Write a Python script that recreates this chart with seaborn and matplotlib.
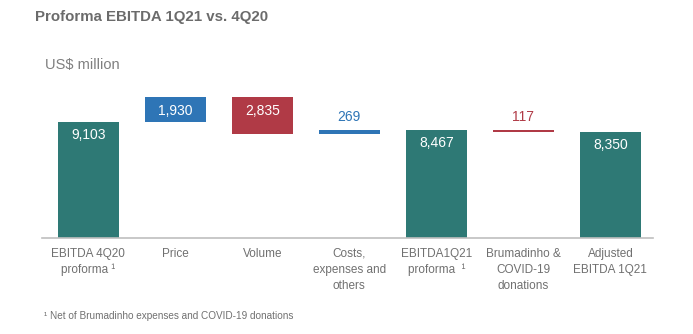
import numpy as np
import pandas as pd
import matplotlib
matplotlib.use("Agg")
import matplotlib.pyplot as plt
import seaborn as sns

categories = ["EBITDA 4Q20\nproforma \u00b9", "Price", "Volume", "Costs,\nexpenses and\nothers",
              "EBITDA1Q21\nproforma  \u00b9", "Brumadinho &\nCOVID-19\ndonations", "Adjusted\nEBITDA 1Q21"]
values = [9103, 1930, -2835, 269, 8467, -117, 8350]
kinds = ["total", "delta", "delta", "delta", "total", "delta", "total"]
value_labels = ["9,103", "1,930", "2,835", "269", "8,467", "117", "8,350"]

TEAL = "#2E7975"
BLUE = "#2E75B6"
RED = "#B03A46"

# waterfall geometry from values
bottoms, heights = [], []
running = 0
for v, k in zip(values, kinds):
    if k == "total":
        bottoms.append(0); heights.append(v); running = v
    else:
        if v >= 0:
            bottoms.append(running); heights.append(v)
        else:
            bottoms.append(running + v); heights.append(-v)
        running += v
colors = [TEAL if k == "total" else (BLUE if v >= 0 else RED) for v, k in zip(values, kinds)]

df = pd.DataFrame({"cat": categories, "h": heights})

sns.set_theme(style="white")
plt.rcParams["font.family"] = ["Liberation Sans", "DejaVu Sans"]

fig = plt.figure(figsize=(6.93, 3.34), dpi=100)
ax = fig.add_axes([42/693, 96/334, 611/693, 152.9/334])

sns.barplot(data=df, x="cat", y="h", order=categories, bottom=np.array(bottoms, dtype=float),
            width=0.70, linewidth=0, ax=ax, errorbar=None, color=TEAL, saturation=1)
for p, c in zip(ax.patches, colors):
    p.set_facecolor(c)
    p.set_edgecolor("none")

ax.set_ylim(0, 12000)
ax.set_xlim(-0.53, 6.49)

for i, (b, h, k, c, lab) in enumerate(zip(bottoms, heights, kinds, colors, value_labels)):
    top = b + h
    if k == "delta" and h < 1000:
        ax.annotate(lab, (i, top), xytext=(0, 9.5), textcoords="offset points",
                    ha="center", va="center", fontsize=10, color=c)
    else:
        ax.annotate(lab, (i, top), xytext=(0, -9.5), textcoords="offset points",
                    ha="center", va="center", fontsize=10, color="white")

ax.set_xlabel("")
ax.set_ylabel("")
ax.set_yticks([])
ax.tick_params(axis="x", length=0, pad=7, labelsize=8.5, labelcolor="#707070")
for t in ax.get_xticklabels():
    t.set_linespacing(1.45)
for s in ["top", "right", "left"]:
    ax.spines[s].set_visible(False)
ax.spines["bottom"].set_color("#BFBFBF")
ax.spines["bottom"].set_linewidth(1.2)

fig.text(35/693, 1 - 17/334, "Proforma EBITDA 1Q21 vs. 4Q20", fontsize=10.8, fontweight="bold",
         color="#6B6B6B", ha="left", va="center")
fig.text(45/693, 1 - 65/334, "US$ million", fontsize=10.5, color="#7F7F7F", ha="left", va="center")
fig.text(44/693, 1 - 316/334, "\u00b9 Net of Brumadinho expenses and COVID-19 donations", fontsize=7.2,
         color="#707070", ha="left", va="center")

fig.savefig("out.png", dpi=100)
